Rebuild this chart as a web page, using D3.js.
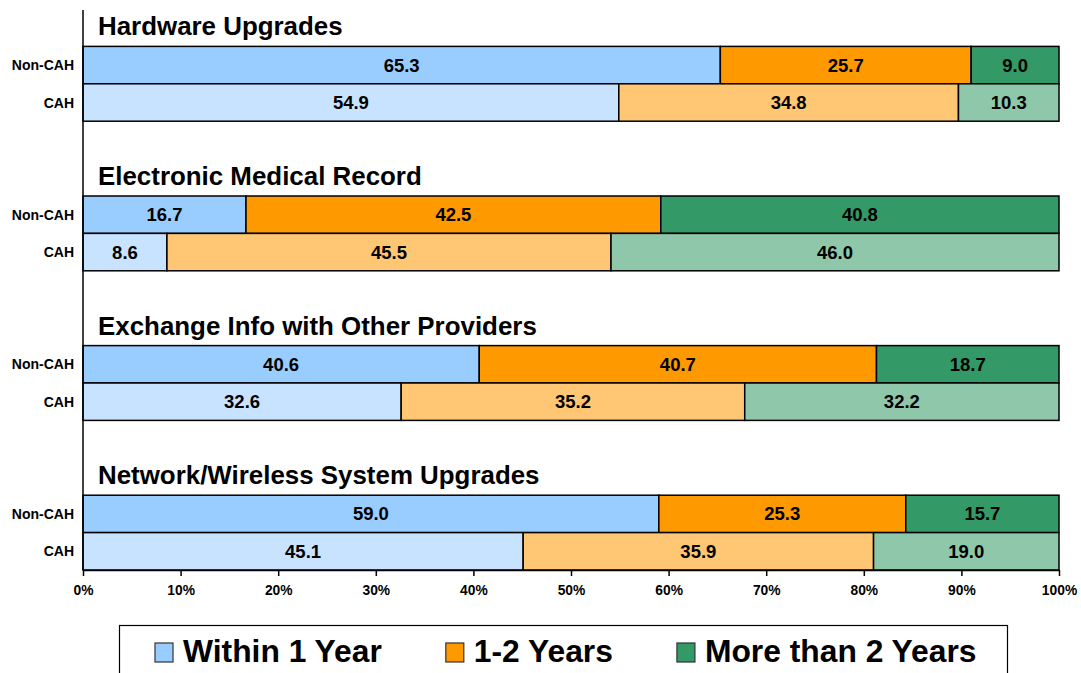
<!DOCTYPE html>
<html><head><meta charset="utf-8">
<script src="https://cdn.jsdelivr.net/npm/d3@7/dist/d3.min.js"></script>
<style>body{margin:0;background:#fff;} text{font-family:Arial,"Liberation Sans",sans-serif;font-weight:bold;}</style>
</head><body><svg id="c" width="1081" height="673"></svg>
<script>
const groups = ["Hardware Upgrades","Electronic Medical Record","Exchange Info with Other Providers","Network/Wireless System Upgrades"];
const rows = ["Non-CAH","CAH"];
const seriesNames = ["Within 1 Year","1-2 Years","More than 2 Years"];
const colors = ["#99ccff","#ff9900","#339966"];
const within1 = [[65.3,54.9],[16.7,8.6],[40.6,32.6],[59.0,45.1]];
const years12 = [[25.7,34.8],[42.5,45.5],[40.7,35.2],[25.3,35.9]];
const more2 = [[9.0,10.3],[40.8,46.0],[18.7,32.2],[15.7,19.0]];
const xTicks = [0,10,20,30,40,50,60,70,80,90,100];

const svg = d3.select("#c");
const lightColors = colors.map(c=>d3.interpolateRgb(c,"#ffffff")(0.45));

const x = d3.scaleLinear().domain([0,100]).range([83,1059]);
const gBand = d3.scaleBand().domain(groups).range([570-4*149.6,570]);
const rBand = d3.scaleBand().domain(rows).range([gBand.bandwidth()/2, gBand.bandwidth()]);

const data = [];
groups.forEach((g,gi)=>{
  rows.forEach((r,ri)=>{
    const vals=[within1[gi][ri],years12[gi][ri],more2[gi][ri]];
    let acc=0;
    vals.forEach((v,si)=>{ data.push({g,r,ri,si,v,x0:acc,x1:acc+v}); acc+=v; });
  });
});

const bars = svg.append("g");
bars.selectAll("rect").data(data).join("rect")
  .attr("x",d=>x(d.x0)).attr("width",d=>x(Math.min(d.x1,100))-x(d.x0))
  .attr("y",d=>gBand(d.g)+rBand(d.r)).attr("height",rBand.bandwidth())
  .attr("fill",d=>d.ri===0?colors[d.si]:lightColors[d.si])
  .attr("stroke","#000").attr("stroke-width",1.5);
bars.selectAll("text").data(data).join("text")
  .attr("x",d=>x((d.x0+Math.min(d.x1,100))/2))
  .attr("y",d=>gBand(d.g)+rBand(d.r)+rBand.bandwidth()/2+6.5)
  .attr("text-anchor","middle").attr("font-size",18.5).text(d=>d.v.toFixed(1));

// group titles
svg.append("g").selectAll("text").data(groups).join("text")
  .attr("x",98).attr("y",d=>gBand(d)+rBand("Non-CAH")-11)
  .attr("font-size",25.9).text(d=>d);

// row labels
const rl = svg.append("g");
groups.forEach(g=>{
  rows.forEach(r=>{
    rl.append("text").attr("x",74).attr("y",gBand(g)+rBand(r)+rBand.bandwidth()/2+5)
      .attr("text-anchor","end").attr("font-size",14).text(r);
  });
});

// y axis line
svg.append("line").attr("x1",83).attr("x2",83).attr("y1",10).attr("y2",570).attr("stroke","#000").attr("stroke-width",1.5);

// x axis
const xa = svg.append("g").attr("transform","translate(0,570)")
  .call(d3.axisBottom(x).tickValues(xTicks).tickFormat(d=>d+"%").tickSize(6).tickSizeOuter(0));
xa.select(".domain").attr("stroke","#000").attr("stroke-width",1.5);
xa.selectAll(".tick line").attr("stroke","#000").attr("stroke-width",1.5);
xa.selectAll(".tick text").attr("font-size",13.8).attr("font-family","Arial, 'Liberation Sans', sans-serif")
  .attr("font-weight","bold").attr("fill","#000").attr("dy",0).attr("y",25);

// legend
const lg = svg.append("g");
lg.append("rect").attr("x",119.5).attr("y",625.5).attr("width",888).attr("height",60)
  .attr("fill","#fff").attr("stroke","#000").attr("stroke-width",1.2);
let lx = 155;
seriesNames.forEach((s,i)=>{
  lg.append("rect").attr("x",lx).attr("y",643).attr("width",18).attr("height",19)
    .attr("fill",colors[i]).attr("stroke","#333").attr("stroke-width",1.2);
  const t = lg.append("text").attr("x",lx+28).attr("y",662).attr("font-size",31.8).text(s);
  const w = t.node().getComputedTextLength();
  lx = lx+28+w+64;
});
</script></body></html>
